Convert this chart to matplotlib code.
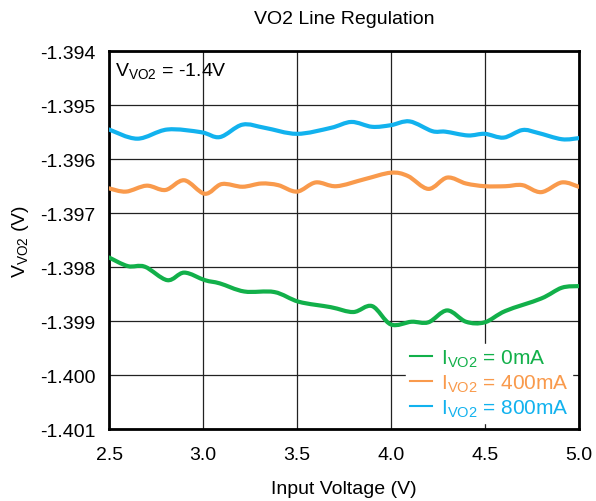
import matplotlib
matplotlib.use("Agg")
import matplotlib.pyplot as plt
from matplotlib.path import Path
from matplotlib.patches import PathPatch
from matplotlib.lines import Line2D

plt.rcParams['font.family'] = ['Liberation Sans', 'DejaVu Sans']

x_0mA = [2.5, 2.60, 2.69, 2.81, 2.90, 3.01, 3.09, 3.22, 3.38, 3.51, 3.68, 3.80, 3.90,
         4.00, 4.11, 4.20, 4.30, 4.40, 4.50, 4.61, 4.80, 4.91, 5.0]
v_0mA = [-1.39782, -1.39798, -1.39799, -1.39824, -1.39810, -1.39824, -1.39830, -1.39845,
         -1.39846, -1.39864, -1.39874, -1.39883, -1.39872, -1.39906, -1.39901, -1.39902,
         -1.39880, -1.39901, -1.39902, -1.39881, -1.39858, -1.39838, -1.39835]

x_400mA = [2.5, 2.59, 2.70, 2.80, 2.90, 3.01, 3.10, 3.21, 3.31, 3.40, 3.50, 3.60, 3.71,
           3.86, 4.00, 4.09, 4.20, 4.30, 4.40, 4.50, 4.61, 4.70, 4.80, 4.91, 5.0]
v_400mA = [-1.39654, -1.39660, -1.39649, -1.39657, -1.39639, -1.39664, -1.39646, -1.39651,
           -1.39645, -1.39648, -1.39660, -1.39643, -1.39650, -1.39637, -1.39625, -1.39631,
           -1.39655, -1.39634, -1.39645, -1.39650, -1.39650, -1.39648, -1.39661, -1.39643,
           -1.39651]

x_800mA = [2.5, 2.65, 2.81, 2.99, 3.09, 3.21, 3.33, 3.50, 3.68, 3.79, 3.90, 4.00, 4.10,
           4.22, 4.29, 4.41, 4.50, 4.60, 4.70, 4.78, 4.91, 5.0]
v_800mA = [-1.39545, -1.39562, -1.39545, -1.39550, -1.39559, -1.39536, -1.39542, -1.39553,
           -1.39542, -1.39531, -1.39540, -1.39537, -1.39530, -1.39548, -1.39549, -1.39556,
           -1.39553, -1.39560, -1.39546, -1.39551, -1.39563, -1.39561]

labels = ['I$_{\\mathregular{VO2}}$ = 0mA', 'I$_{\\mathregular{VO2}}$ = 400mA', 'I$_{\\mathregular{VO2}}$ = 800mA']
colors = ['#12B04A', '#F99A4C', '#12B2EE']
x_ticks = [2.5, 3.0, 3.5, 4.0, 4.5, 5.0]
y_ticks = [-1.394, -1.395, -1.396, -1.397, -1.398, -1.399, -1.400, -1.401]


def smooth_path(xs, ys):
    """Cubic Bezier path passing through every data point (Catmull-Rom style)."""
    n = len(xs)
    verts = [(xs[0], ys[0])]
    codes = [Path.MOVETO]
    for i in range(n - 1):
        i0 = max(i - 1, 0)
        i3 = min(i + 2, n - 1)
        c1 = (xs[i] + (xs[i + 1] - xs[i0]) / 6, ys[i] + (ys[i + 1] - ys[i0]) / 6)
        c2 = (xs[i + 1] - (xs[i3] - xs[i]) / 6, ys[i + 1] - (ys[i3] - ys[i]) / 6)
        verts += [c1, c2, (xs[i + 1], ys[i + 1])]
        codes += [Path.CURVE4] * 3
    return Path(verts, codes)


fig = plt.figure(figsize=(5.96, 5.02), dpi=100)
ax = fig.add_axes([0.183, 0.143, 0.788, 0.753])

handles = []
for xs, vs, c, lab in zip([x_0mA, x_400mA, x_800mA], [v_0mA, v_400mA, v_800mA], colors, labels):
    patch = PathPatch(smooth_path(xs, vs), facecolor='none', edgecolor=c, lw=3,
                      joinstyle='round', capstyle='round', zorder=3)
    ax.add_patch(patch)
    handles.append(Line2D([], [], color=c, lw=1.5, label=lab))

ax.set_xlim(2.5, 5.0)
ax.set_ylim(-1.401, -1.394)
ax.set_xticks(x_ticks)
ax.set_xticklabels([f'{t:.1f}' for t in x_ticks])
ax.set_yticks(y_ticks)
ax.set_yticklabels([f'{t:.3f}' for t in y_ticks])
ax.tick_params(axis='y', length=0, labelsize=14, pad=10)
ax.tick_params(axis='x', length=0, labelsize=14, pad=12)
ax.grid(True, color='#222222', lw=0.9)
for s in ax.spines.values():
    s.set_linewidth(2)
    s.set_color('black')

ax.set_title('VO2 Line Regulation', fontsize=14, pad=20)
ax.set_xlabel('Input Voltage (V)', fontsize=14, labelpad=12)
ax.set_ylabel('V$_{\\mathregular{VO2}}$ (V)', fontsize=14, labelpad=6)

ax.text(2.53, -1.39418, 'V$_{\\mathregular{VO2}}$ = -1.4V', fontsize=14, va='top', ha='left', zorder=4)

leg = ax.legend(handles=handles, loc='lower right', fontsize=15, frameon=True, framealpha=1,
                edgecolor='white', fancybox=False, handlelength=1.05, handletextpad=0.4,
                borderpad=0.2, labelspacing=0.15, borderaxespad=0.3)
for t, c in zip(leg.get_texts(), colors):
    t.set_color(c)

fig.savefig('out.png', dpi=100)
